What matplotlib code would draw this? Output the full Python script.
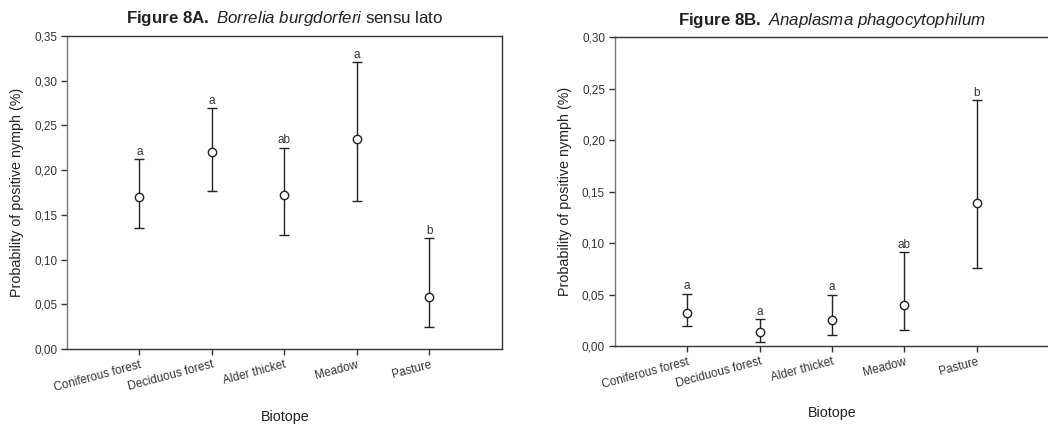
import numpy as np
import matplotlib
matplotlib.use('Agg')
import matplotlib.pyplot as plt

plt.rcParams['font.family'] = ['Liberation Sans', 'DejaVu Sans']
plt.rcParams['mathtext.fontset'] = 'custom'
plt.rcParams['mathtext.rm'] = 'Liberation Sans'
plt.rcParams['mathtext.it'] = 'Liberation Sans:italic'
plt.rcParams['mathtext.bf'] = 'Liberation Sans:bold'

biotopes = ['Coniferous forest', 'Deciduous forest', 'Alder thicket', 'Meadow', 'Pasture']

# Borrelia burgdorferi s.l.: estimate, lower and upper limit
bb_est = [0.170, 0.220, 0.172, 0.235, 0.058]
bb_low = [0.135, 0.177, 0.128, 0.166, 0.025]
bb_high = [0.212, 0.269, 0.225, 0.321, 0.124]
bb_letters = ['a', 'a', 'ab', 'a', 'b']
bb_ticks = [0.00, 0.05, 0.10, 0.15, 0.20, 0.25, 0.30, 0.35]

# Anaplasma phagocytophilum
ap_est = [0.032, 0.014, 0.025, 0.040, 0.139]
ap_low = [0.019, 0.004, 0.011, 0.016, 0.076]
ap_high = [0.051, 0.026, 0.050, 0.091, 0.239]
ap_letters = ['a', 'a', 'a', 'ab', 'b']
ap_ticks = [0.00, 0.05, 0.10, 0.15, 0.20, 0.25, 0.30]


def panel(ax, est, low, high, letters, ticks, title):
    x = np.arange(1, len(est) + 1)
    est = np.array(est); low = np.array(low); high = np.array(high)
    ax.errorbar(x, est, yerr=[est - low, high - est], fmt='o', color='#222222',
                mfc='white', mec='#222222', ms=6, mew=1.0, elinewidth=1.0,
                capsize=3.3, capthick=1.0)
    for xi, hi, s in zip(x, high, letters):
        ax.annotate(s, (xi, hi), xytext=(0, 1.0), textcoords='offset points',
                    ha='center', va='bottom', fontsize=8.5, color='#333333')
    ax.set_xlim(0, 6)
    ax.set_ylim(0, ticks[-1])
    ax.set_yticks(ticks)
    ax.set_yticklabels(['{:.2f}'.format(t).replace('.', ',') for t in ticks])
    ax.set_xticks(x)
    ax.set_xticklabels(biotopes, rotation=15, ha='right', rotation_mode='anchor')
    ax.tick_params(direction='out', length=4, width=1, labelsize=8.5,
                   colors='#333333', pad=3)
    for s in ax.spines.values():
        s.set_color('#333333')
        s.set_linewidth(1.0)
    ax.spines['left'].set_color('#777777')
    ax.set_ylabel('Probability of positive nymph (%)', fontsize=10.3,
                  color='#222222', labelpad=7)
    ax.set_title(title, fontsize=12.2, color='#222222', pad=9)


fig = plt.figure(figsize=(10.48, 4.25), dpi=100)
ax1 = fig.add_axes([0.0639, 0.1788, 0.4151, 0.7365])
ax2 = fig.add_axes([0.5866, 0.1859, 0.4145, 0.7261])

panel(ax1, bb_est, bb_low, bb_high, bb_letters, bb_ticks,
      r'$\mathbf{Figure\ 8A.}\ \mathit{Borrelia\ burgdorferi}$ sensu lato')
panel(ax2, ap_est, ap_low, ap_high, ap_letters, ap_ticks,
      r'$\mathbf{Figure\ 8B.}\ \mathit{Anaplasma\ phagocytophilum}$')
ax2.spines['right'].set_visible(False)

# x-axis titles sit well below the slanted category labels
fig.text(285 / 1048, 1 - 417 / 425, 'Biotope', fontsize=10.3, color='#222222',
         ha='center', va='center')
fig.text(832 / 1048, 1 - 413 / 425, 'Biotope', fontsize=10.3, color='#222222',
         ha='center', va='center')

fig.savefig('out.png', dpi=100)
